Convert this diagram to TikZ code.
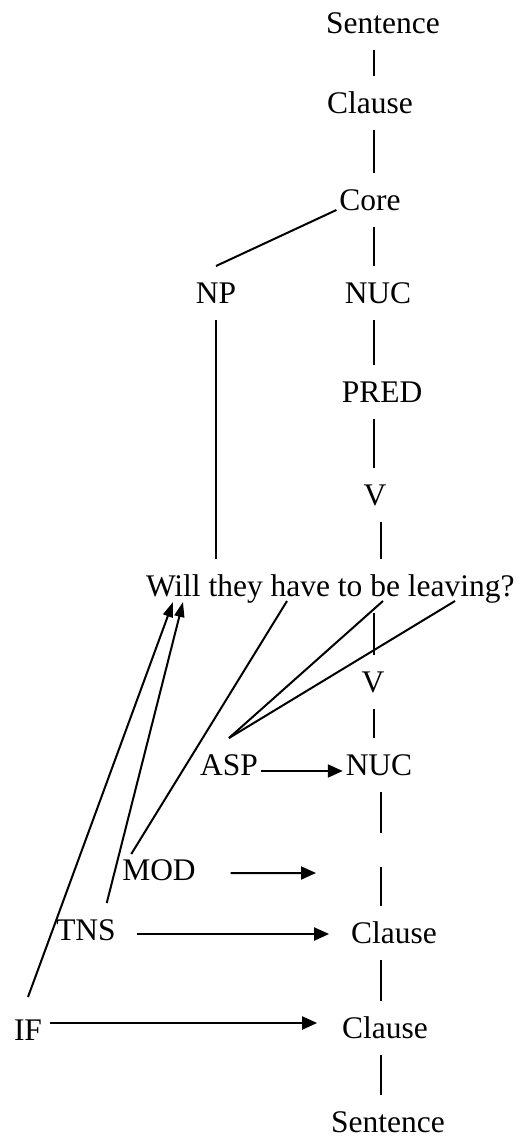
\documentclass[tikz,border=0pt]{standalone}
\usepackage{fontspec}
\setmainfont{Liberation Serif}
\usetikzlibrary{arrows.meta}

\tikzset{
    lbl/.style={anchor=base, font=\fontsize{31.6pt}{38pt}\selectfont,
        inner xsep=2bp, inner ysep=9bp, text height=27bp, text depth=7bp},
    arr/.style={-{Triangle[length=15bp,width=13bp]}},
    thinarr/.style={-{Triangle[length=15bp,width=10bp]}}
}

\begin{document}
\begin{tikzpicture}[x=1bp, y=-1bp, line width=2bp]
    \useasboundingbox (0,0) rectangle (520,1140);
    \coordinate (topspine) at (373.5,0);
    \coordinate (lowspine) at (381,0);

    \node[lbl] (s1) at (383,33) {Sentence};
    \node[lbl] (c1) at (370,113) {Clause};
    \node[lbl] (core) at (370,210) {Core};
    \node[lbl] (np) at (216,303) {NP};
    \node[lbl] (nuc1) at (378,303) {NUC};
    \node[lbl] (pred) at (382,402) {PRED};
    \node[lbl] (v1) at (375,505) {V};
    \node[lbl, anchor=base west] (sent) at (143,596) {Will they have to be leaving?};
    \node[lbl] (v2) at (373,692) {V};
    \node[lbl] (asp) at (229,775) {ASP};
    \node[lbl] (nuc2) at (379,775) {NUC};
    \node[lbl] (mod) at (159,880) {MOD};
    \node[lbl] (tns) at (86,940) {TNS};
    \node[lbl] (c3) at (394,943) {Clause};
    \node[lbl] (iff) at (28,1040) {IF};
    \node[lbl] (c4) at (385,1038) {Clause};
    \node[lbl] (s2) at (388,1132) {Sentence};

    \coordinate (willa) at (173,602);
    \coordinate (willb) at (183,602);
    \coordinate (have) at (287,601);
    \coordinate (be) at (383,601);
    \coordinate (leaving) at (455,601);
    \coordinate (modend) at (316,873);

    \draw (s1.south -| topspine) -- (c1.north -| topspine);
    \draw (c1.south -| topspine) -- (core.north -| topspine);
    \draw (core.south -| topspine) -- (nuc1.north -| topspine);
    \draw (core.base west) -- (np.north);
    \draw (np.south) -- (np.south |- sent.north);
    \draw (nuc1.south -| topspine) -- (pred.north -| topspine);
    \draw (pred.south -| topspine) -- (v1.north -| topspine);
    \draw (v1.south -| lowspine) -- (sent.north -| lowspine);

    \draw (sent.south -| topspine) -- (v2.north -| topspine);
    \draw (v2.south -| topspine) -- (nuc2.north -| topspine);
    \draw[dash pattern=on 41bp off 34bp] (nuc2.south -| lowspine) -- (c3.north -| lowspine);
    \draw (c3.south -| lowspine) -- (c4.north -| lowspine);
    \draw (c4.south -| lowspine) -- (s2.north -| lowspine);

    \draw (asp.north) -- (be);
    \draw (asp.north) -- (leaving);
    \draw ([xshift=12bp, yshift=-11bp]mod.north west) -- (have);
    \draw[thinarr] ([xshift=-12bp]tns.north east) -- (willb);
    \draw[thinarr] ([yshift=6bp]iff.north) -- (willa);

    \draw[arr] ([yshift=4bp]asp.base east) -- ([yshift=4bp]asp.base east -| nuc2.west);
    \draw[arr, shorten <=32bp] ([yshift=7bp]mod.base east) -- (modend);
    \draw[arr, shorten <=18bp, shorten >=19bp] ([yshift=6bp]tns.base east) -- ([yshift=6bp]tns.base east -| c3.west);
    \draw[arr, shorten <=5bp, shorten >=22bp] ([yshift=17bp]iff.base east) -- ([yshift=17bp]iff.base east -| c4.west);
\end{tikzpicture}
\end{document}
